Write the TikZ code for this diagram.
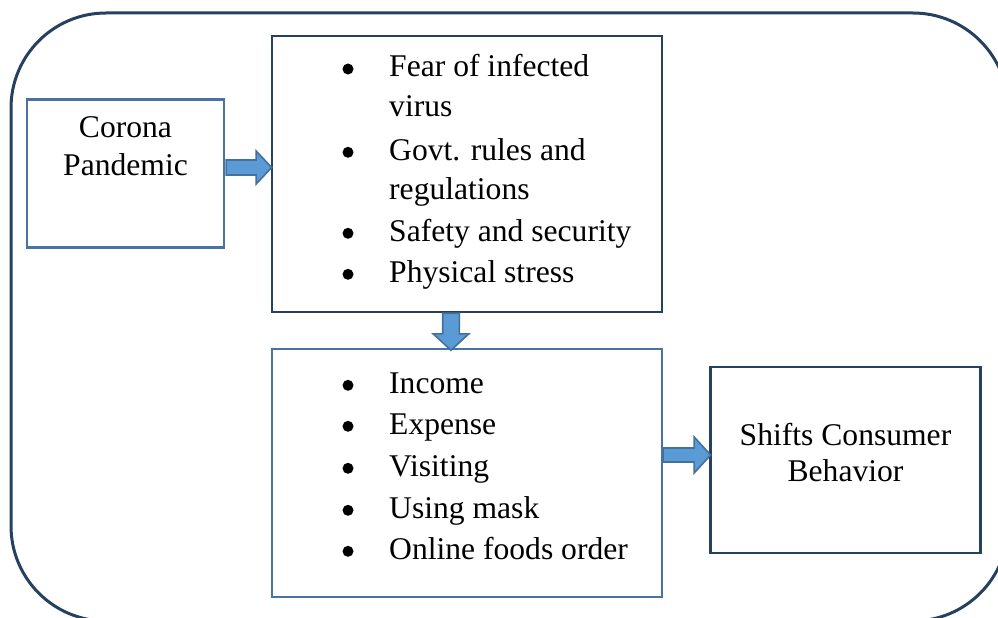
\documentclass[tikz,border=0pt]{standalone}
\usepackage{fontspec}
\setmainfont{Liberation Serif}
\definecolor{darkline}{RGB}{38,64,96}
\definecolor{lightline}{RGB}{74,114,163}
\definecolor{arrfill}{RGB}{91,155,213}
\definecolor{arrline}{RGB}{65,113,156}
\tikzset{
  darkbox/.style={draw=darkline, line width=2.5pt, inner sep=0pt, fill=white},
  lightbox/.style={draw=lightline, line width=2.3pt, inner sep=0pt, fill=white},
  barrow/.style={fill=arrfill, draw=arrline, line width=1.6pt, line join=miter},
  txt/.style={inner sep=0pt, font=\fontsize{31.6pt}{38pt}\selectfont},
  bul/.style={circle, fill=black, inner sep=0pt, minimum size=11pt},
}
\begin{document}
\begin{tikzpicture}[x=1pt,y=-1pt]
\useasboundingbox (0,0) rectangle (998,618);
\begin{scope}
\clip (0,0) rectangle (998,618);
\draw[draw=darkline, line width=3pt, rounded corners=95pt] (11,13) rectangle (1008,621);
\end{scope}
% boxes
\node[lightbox, minimum width=197pt, minimum height=148pt] (corona) at (125.5,173.5) {};
\node[darkbox, minimum width=390pt, minimum height=276pt] (top) at (467,174) {};
\node[lightbox, minimum width=390pt, minimum height=248pt] (bot) at (467,473) {};
\node[darkbox, minimum width=270pt, minimum height=186pt] (shift) at (845.5,460) {};
% arrows
\draw[barrow] ([xshift=1pt,yshift=6pt]corona.east) +(0,-7.5) -- +(30,-7.5) -- +(30,-16.5) -- +(45.5,0) -- +(30,16.5) -- +(30,7.5) -- +(0,7.5) -- cycle;
\draw[barrow] ([xshift=-16pt]top.south) +(-8.3,0) -- +(-8.3,20.6) -- +(-17.8,20.6) -- +(0,37) -- +(17.8,20.6) -- +(8.3,20.6) -- +(8.3,0) -- cycle;
\draw[barrow] ([yshift=18pt]bot.east) +(0,-7) -- +(31,-7) -- +(31,-18) -- +(47.5,0) -- +(31,18) -- +(31,7) -- +(0,7) -- cycle;
% texts left box
\node[txt, anchor=base] (c1) at (125.5,137.7) {Corona};
\node[txt, anchor=base] (c2) at (125.5,175) {Pandemic};
% top list
\node[bul] (b1) at (348,69) {};
\node[txt, anchor=base west] (t1) at (389,76.7) {Fear of infected};
\node[txt, anchor=base west] (t1b) at (389,116.7) {virus};
\node[bul] (b2) at (348,152.3) {};
\node[txt, anchor=base west] (t2) at (389,160) {Govt. rules and};
\node[txt, anchor=base west] (t2b) at (389,199.5) {regulations};
\node[bul] (b3) at (348,233.3) {};
\node[txt, anchor=base west] (t3) at (389,241) {Safety and security};
\node[bul] (b4) at (348,274.3) {};
\node[txt, anchor=base west] (t4) at (389,282) {Physical stress};
% bottom list
\node[bul] (d1) at (348,385.3) {};
\node[txt, anchor=base west] (u1) at (389,393) {Income};
\node[bul] (d2) at (348,426.3) {};
\node[txt, anchor=base west] (u2) at (389,434) {Expense};
\node[bul] (d3) at (348,468.3) {};
\node[txt, anchor=base west] (u3) at (389,476) {Visiting};
\node[bul] (d4) at (348,510.3) {};
\node[txt, anchor=base west] (u4) at (389,518) {Using mask};
\node[bul] (d5) at (348,551.3) {};
\node[txt, anchor=base west] (u5) at (389,559) {Online foods order};
% right box
\node[txt, anchor=base] (s1) at (845.5,445) {Shifts Consumer};
\node[txt, anchor=base] (s2) at (845.5,481.7) {Behavior};
\end{tikzpicture}
\end{document}
